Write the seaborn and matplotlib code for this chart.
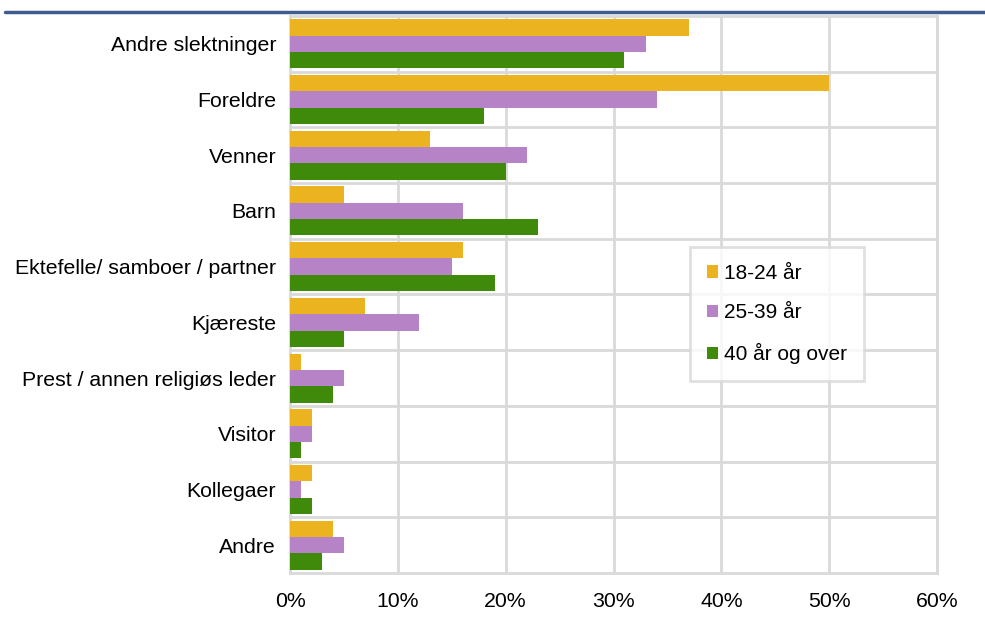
import pandas as pd
import numpy as np
import matplotlib.pyplot as plt
import seaborn as sns
from matplotlib.patches import Patch
from matplotlib.lines import Line2D

categories = ['Andre slektninger', 'Foreldre', 'Venner', 'Barn', 'Ektefelle/ samboer / partner',
              'Kjæreste', 'Prest / annen religiøs leder', 'Visitor', 'Kollegaer', 'Andre']
groups = ['18-24 år', '25-39 år', '40 år og over']
age_18_24 = [37, 50, 13, 5, 16, 7, 1, 2, 2, 4]
age_25_39 = [33, 34, 22, 16, 15, 12, 5, 2, 1, 5]
age_40_plus = [31, 18, 20, 23, 19, 5, 4, 1, 2, 3]
colors = ['#EBB31F', '#B583C6', '#3F8A0B']

data = pd.DataFrame({
    'kategori': categories * 3,
    'gruppe': np.repeat(groups, len(categories)),
    'andel': age_18_24 + age_25_39 + age_40_plus,
})

sns.set_style('white')
plt.rcParams['font.family'] = ['Liberation Sans', 'DejaVu Sans']
plt.rcParams['text.color'] = 'black'
plt.rcParams['xtick.color'] = 'black'
plt.rcParams['ytick.color'] = 'black'

fig = plt.figure(figsize=(9.85, 6.17), dpi=100)
ax = fig.add_axes([290 / 985, 1 - 573 / 617, 647 / 985, 557 / 617])

sns.barplot(data=data, y='kategori', x='andel', hue='gruppe', orient='h',
            palette=colors, width=0.88, saturation=1, linewidth=0, ax=ax,
            legend=False, zorder=3)

ax.set_xlim(0, 60)
ax.set_ylim(len(categories) - 0.5, -0.5)
ax.set_xticks(range(0, 61, 10))
ax.set_xticklabels([f'{v}%' for v in range(0, 61, 10)], fontsize=15.3)
ax.set_yticks(range(len(categories)))
ax.set_yticklabels(categories, fontsize=15.3)
ax.set_yticks(np.arange(0.5, len(categories) - 0.5, 1), minor=True)
ax.tick_params(axis='both', which='both', length=0, labelcolor='black')
ax.tick_params(axis='y', pad=10)
ax.tick_params(axis='x', pad=14)
ax.set_xlabel('')
ax.set_ylabel('')
ax.grid(axis='x', which='major', color='#D9D9D9', linewidth=2, zorder=0)
ax.grid(axis='y', which='minor', color='#D9D9D9', linewidth=2, zorder=0)
ax.set_axisbelow(True)
for s in ax.spines.values():
    s.set_color('#D9D9D9')
    s.set_linewidth(2)

handles = [Patch(facecolor=c, edgecolor='none', label=g) for c, g in zip(colors, groups)]
leg = ax.legend(handles=handles, loc='upper left', bbox_to_anchor=(690 / 985, 1 - 247 / 617),
                bbox_transform=fig.transFigure, frameon=True, fancybox=False,
                fontsize=15, handlelength=0.55, handleheight=0.55, handletextpad=0.3,
                labelspacing=1.0, borderpad=0.8, borderaxespad=0, labelcolor='black')
leg.get_frame().set_edgecolor('#D9D9D9')
leg.get_frame().set_linewidth(2)
leg.set_zorder(5)

fig.add_artist(Line2D([5 / 985, 1], [1 - 11.5 / 617, 1 - 11.5 / 617], transform=fig.transFigure,
                      color='#3F5C8C', linewidth=2.5))

fig.savefig('out.png', dpi=100)
plt.close()
